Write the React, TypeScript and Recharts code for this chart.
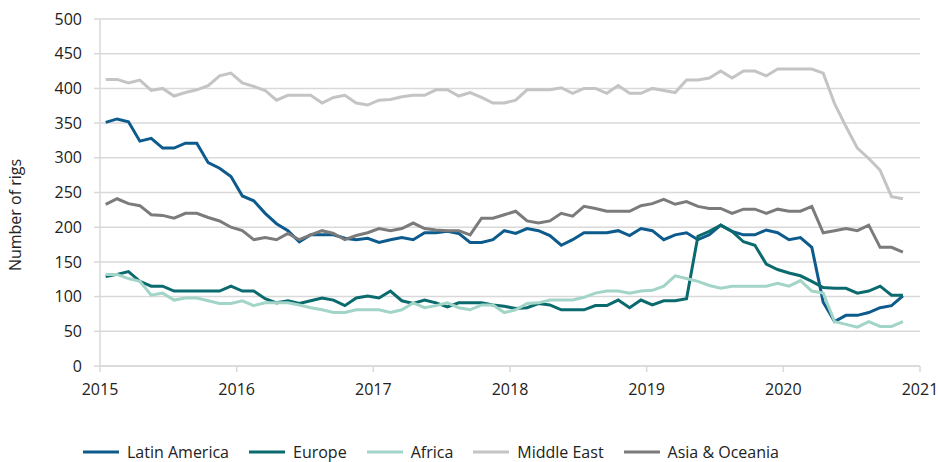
import React from 'react';
import { LineChart, Line, XAxis, YAxis, CartesianGrid, Legend } from 'recharts';

// Monthly rig counts, Jan 2015 .. Nov 2020
const latinAmerica = [
  351, 356, 352, 324, 328, 314, 314, 321, 321, 293, 285, 273,
  245, 238, 220, 205, 195, 179, 189, 189, 189, 184, 182, 184,
  178, 182, 185, 182, 192, 192, 194, 191, 178, 178, 182, 195,
  191, 198, 195, 188, 174, 182, 192, 192, 192, 195, 188, 198,
  195, 182, 189, 192, 182, 189, 203, 194, 189, 189, 196, 192,
  182, 185, 171, 92, 64, 73, 73, 77, 84, 87, 101,
];
const europe = [
  129, 132, 136, 122, 115, 115, 108, 108, 108, 108, 108, 115,
  108, 108, 97, 91, 94, 90, 94, 98, 95, 87, 98, 101,
  98, 108, 94, 90, 95, 91, 85, 91, 91, 91, 88, 86,
  83, 84, 90, 88, 81, 81, 81, 87, 87, 95, 84, 95,
  88, 94, 94, 97, 187, 194, 203, 194, 179, 174, 147, 139,
  134, 130, 122, 113, 112, 112, 105, 108, 115, 102, 102,
];
const africa = [
  132, 132, 126, 122, 102, 105, 95, 98, 98, 94, 90, 90,
  94, 87, 91, 91, 91, 88, 84, 81, 77, 77, 81, 81,
  81, 77, 81, 91, 84, 87, 91, 84, 81, 88, 88, 77,
  81, 90, 91, 95, 95, 95, 99, 105, 108, 108, 105, 108,
  109, 115, 130, 126, 122, 116, 112, 115, 115, 115, 115, 119,
  115, 123, 108, 105, 64, 60, 56, 64, 57, 57, 64,
];
const middleEast = [
  413, 413, 408, 412, 397, 400, 389, 394, 398, 404, 418, 422,
  408, 403, 397, 383, 390, 390, 390, 379, 387, 390, 379, 376,
  383, 384, 388, 390, 390, 398, 398, 389, 394, 387, 379, 379,
  383, 398, 398, 398, 401, 393, 400, 400, 393, 404, 393, 393,
  400, 397, 394, 412, 412, 415, 425, 415, 425, 425, 418, 428,
  428, 428, 428, 422, 378, 345, 314, 299, 282, 244, 241,
];
const asiaOceania = [
  233, 241, 234, 231, 218, 217, 213, 220, 220, 214, 209, 200,
  195, 182, 185, 182, 191, 182, 189, 195, 191, 182, 188, 192,
  198, 195, 198, 206, 198, 196, 195, 195, 189, 213, 213, 218,
  223, 209, 206, 209, 220, 216, 230, 227, 223, 223, 223, 231,
  234, 240, 233, 237, 230, 227, 227, 220, 226, 226, 220, 226,
  223, 223, 230, 192, 195, 198, 195, 203, 171, 171, 164,
];

const years = [2015, 2016, 2017, 2018, 2019, 2020, 2021];
const yTicks = [0, 50, 100, 150, 200, 250, 300, 350, 400, 450, 500];

const seriesDefs = [
  { key: 'latinAmerica', name: 'Latin America', color: '#0d5b8c', values: latinAmerica },
  { key: 'europe', name: 'Europe', color: '#0a6a6d', values: europe },
  { key: 'africa', name: 'Africa', color: '#a2d5c7', values: africa },
  { key: 'middleEast', name: 'Middle East', color: '#c4c4c4', values: middleEast },
  { key: 'asiaOceania', name: 'Asia & Oceania', color: '#7b7b7b', values: asiaOceania },
];

// month index (mid-month) since Jan 2015
const data = latinAmerica.map((_, i) => {
  const row: Record<string, number> = { month: i + 0.5 };
  seriesDefs.forEach((s) => {
    row[s.key] = s.values[i];
  });
  return row;
});

const monthTicks = years.map((y) => (y - years[0]) * 12);

const FONT = '"Open Sans", sans-serif';
const TEXT = '#222222';
const GRID = '#d9d9d9';

const LegendContent = () => (
  <div style={{ display: 'flex', alignItems: 'center', height: 22, fontFamily: FONT, fontSize: 16, color: TEXT, whiteSpace: 'nowrap' }}>
    {seriesDefs.map((s) => (
      <div key={s.key} style={{ display: 'flex', alignItems: 'center', marginRight: 20 }}>
        <svg width={36} height={6} style={{ marginRight: 8 }}>
          <line x1={0} y1={3} x2={36} y2={3} stroke={s.color} strokeWidth={3} />
        </svg>
        <span>{s.name}</span>
      </div>
    ))}
  </div>
);

const YLabel = () => (
  <text
    x={21}
    y={215}
    transform="rotate(-90, 21, 215)"
    textAnchor="middle"
    fill={TEXT}
    fontSize={16}
    fontFamily={FONT}
  >
    Number of rigs
  </text>
);

export default function App() {
  return (
    <div style={{ position: 'absolute', left: 0, top: 0, width: 938, height: 462, background: '#fff' }}>
      <LineChart
        width={938}
        height={462}
        data={data}
        margin={{ top: 19, right: 18, bottom: 34, left: 0 }}
        style={{ fontFamily: FONT }}
      >
        <CartesianGrid horizontal vertical={false} stroke={GRID} strokeWidth={1.5} />
        <XAxis
          dataKey="month"
          type="number"
          domain={[0, 72]}
          ticks={monthTicks}
          tickFormatter={(v: number) => String(years[0] + v / 12)}
          height={40}
          tickSize={6}
          tickMargin={12}
          axisLine={{ stroke: GRID, strokeWidth: 1.5 }}
          tickLine={{ stroke: GRID, strokeWidth: 1.5 }}
          tick={{ fill: TEXT, fontSize: 16, fontFamily: FONT }}
          interval={0}
        />
        <YAxis
          type="number"
          domain={[0, 500]}
          ticks={yTicks}
          width={100}
          tickSize={6}
          tickMargin={12}
          axisLine={{ stroke: GRID, strokeWidth: 1.5 }}
          tickLine={{ stroke: GRID, strokeWidth: 1.5 }}
          tick={{ fill: TEXT, fontSize: 16, fontFamily: FONT }}
          interval={0}
          label={{ content: () => <YLabel /> }}
        />
        <Legend
          verticalAlign="bottom"
          align="left"
          content={() => <LegendContent />}
          wrapperStyle={{ left: 83, top: 441, bottom: 'auto', width: 780, height: 22 }}
        />
        {seriesDefs.map((s) => (
          <Line
            key={s.key}
            type="linear"
            dataKey={s.key}
            name={s.name}
            stroke={s.color}
            strokeWidth={3}
            dot={false}
            activeDot={false}
            isAnimationActive={false}
          />
        ))}
      </LineChart>
    </div>
  );
}
